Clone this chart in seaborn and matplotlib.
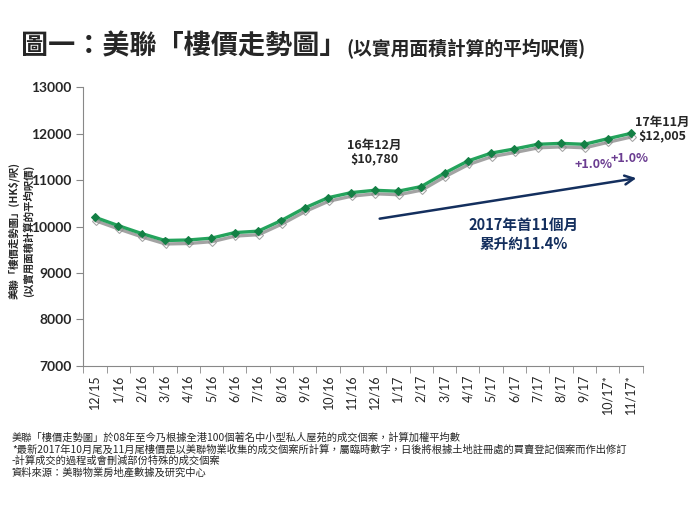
import numpy as np
import pandas as pd
import matplotlib
matplotlib.use('Agg')
import matplotlib.pyplot as plt
import matplotlib.patheffects as pe
import seaborn as sns

# monthly CCL-style index
months = ['12/15', '1/16', '2/16', '3/16', '4/16', '5/16', '6/16', '7/16', '8/16',
          '9/16', '10/16', '11/16', '12/16', '1/17', '2/17', '3/17', '4/17', '5/17',
          '6/17', '7/17', '8/17', '9/17', '10/17*', '11/17*']
prices = [10200, 10020, 9850, 9700, 9710, 9750, 9870, 9900, 10130,
          10400, 10620, 10730, 10780, 10760, 10860, 11150, 11410, 11580,
          11670, 11770, 11790, 11770, 11890, 12005]
yticks = [7000, 8000, 9000, 10000, 11000, 12000, 13000]

notes = [
    '美聯「樓價走勢圖」於08年至今乃根據全港100個著名中小型私人屋苑的成交個案，計算加權平均數',
    '*最新2017年10月尾及11月尾樓價是以美聯物業收集的成交個案所計算，屬臨時數字，日後將根據土地註冊處的買賣登記個案而作出修訂',
    '-計算成交的過程或會刪減部份特殊的成交個案',
    '資料來源：美聯物業房地產數據及研究中心',
]

sns.set_style('white')
plt.rcParams['font.family'] = ['Noto Sans CJK TC', 'DejaVu Sans']

df = pd.DataFrame({'pos': np.arange(len(months)), 'price': prices})

fig = plt.figure(figsize=(7, 5.25), dpi=100)
ax = fig.add_axes([0.119, 0.303, 0.799, 0.531])

green = '#24a35c'
sns.lineplot(data=df, x='pos', y='price', ax=ax, color=green, linewidth=2.4,
             marker='D', markersize=4, markerfacecolor='#138045',
             markeredgecolor='#138045',
             path_effects=[pe.SimpleLineShadow(offset=(0.5, -2.5), shadow_color='#8c8c8c', alpha=0.8, rho=1),
                           pe.Normal()])

ax.set_xlim(-0.5, len(months) - 0.5)
ax.set_ylim(7000, 13000)
ax.set_yticks(yticks)
ax.set_yticklabels([str(v) for v in yticks], fontsize=10, fontweight='bold',
                   family=['Lato', 'DejaVu Sans'])
ax.set_xticks(df['pos'])
ax.set_xticklabels(months, rotation=90, fontsize=9, family=['Lato', 'DejaVu Sans'])
ax.set_xticks(np.arange(-0.5, len(months), 1), minor=True)
ax.tick_params(axis='x', which='major', length=0, pad=6)
ax.tick_params(axis='x', which='minor', length=5, color='#888888', direction='out', bottom=True)
ax.tick_params(axis='y', length=5, color='#888888', direction='out', left=True)
ax.set_xlabel('')
ax.set_ylabel('美聯「樓價走勢圖」(HK$/呎)\n(以實用面積計算的平均呎價)', fontsize=7.5, fontweight='bold',
              linespacing=1.3)
ax.yaxis.set_label_coords(-0.088, 0.485)
for s in ['top', 'right']:
    ax.spines[s].set_visible(False)
for s in ['left', 'bottom']:
    ax.spines[s].set_color('#888888')
    ax.spines[s].set_linewidth(0.8)

# annotations
ax.text(12, 11300, '16年12月\n$10,780', ha='center', va='bottom', fontsize=9,
        fontweight='bold', linespacing=1.15)
ax.text(24.35, 11790, '17年11月\n$12,005', ha='center', va='bottom', fontsize=9,
        fontweight='bold', linespacing=1.15)
ax.text(21.4, prices[21] - 430, '+1.0%', ha='center', va='center', fontsize=9,
        color='#6b3d91', fontweight='bold')
ax.text(22.95, prices[22] - 420, '+1.0%', ha='center', va='center', fontsize=9,
        color='#6b3d91', fontweight='bold')
ax.annotate('', xy=(23.35, 11050), xytext=(12.1, 10160),
            arrowprops=dict(arrowstyle='->', color='#142f5e', lw=1.8, mutation_scale=16))
ax.text(18.4, 9830, '2017年首11個月\n累升約11.4%', ha='center', va='center', fontsize=10.5,
        fontweight='bold', color='#142f5e', linespacing=1.3)

# title
fig.text(0.03, 0.912, '圖一：美聯「樓價走勢圖」', fontsize=19.5, fontweight='bold', va='center')
fig.text(0.495, 0.907, '(以實用面積計算的平均呎價)', fontsize=13.5, fontweight='bold', va='center')

for i, n in enumerate(notes):
    fig.text(0.017, 0.167 - i * 0.0225, n, fontsize=7.4, va='center')

fig.savefig('out.png', dpi=100)
